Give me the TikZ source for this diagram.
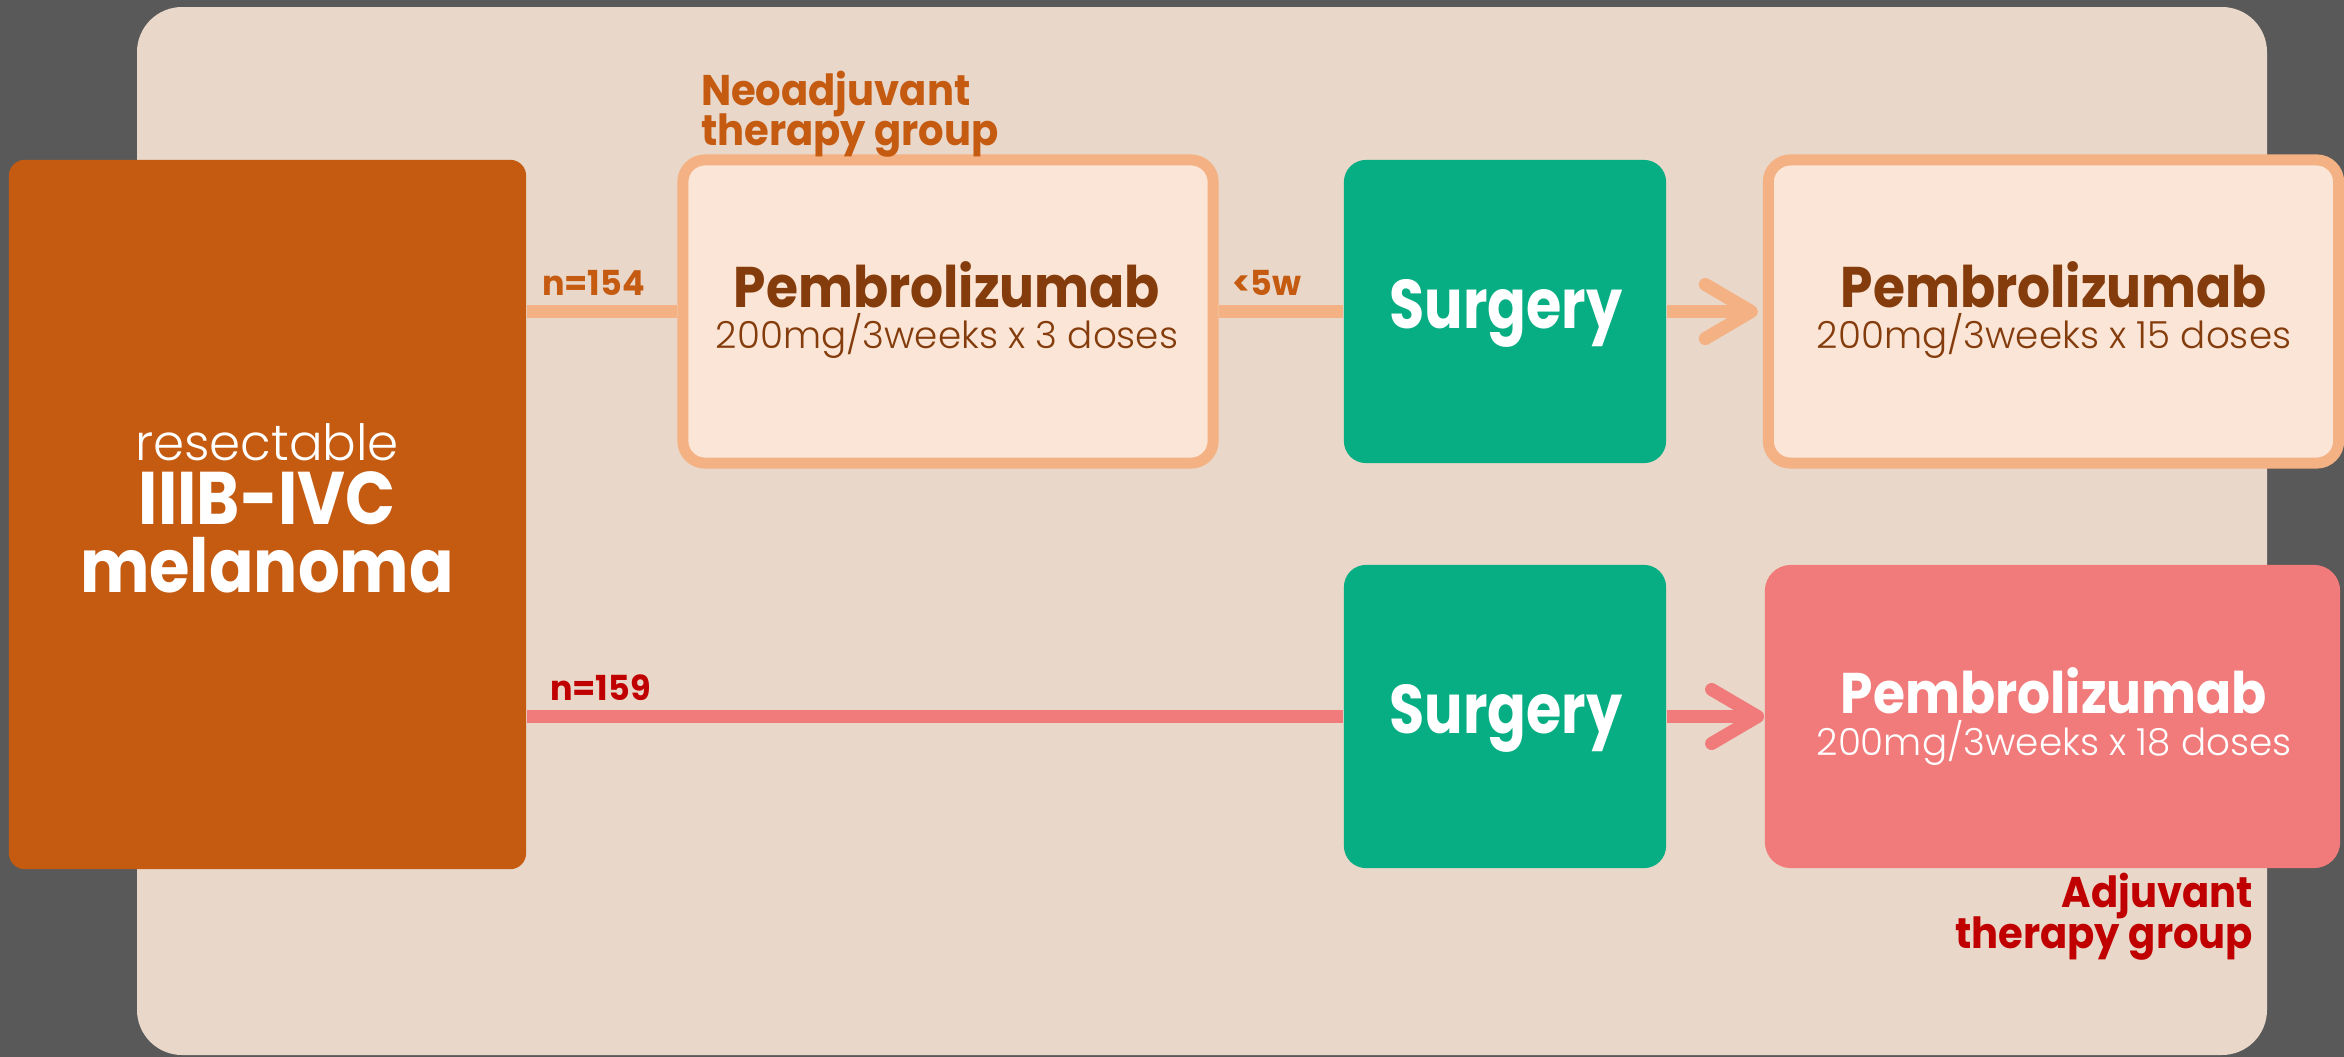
\documentclass[tikz,border=0pt]{standalone}
\usepackage{fontspec}
\usetikzlibrary{arrows.meta}
\setmainfont{Poppins}
\newfontfamily\fbold{Poppins}[FakeStretch=0.88,UprightFont=* Bold]
\newfontfamily\fpemb{Poppins}[FakeStretch=0.905,UprightFont=* Bold]
\newfontfamily\fgrp{Poppins}[FakeStretch=0.935,UprightFont=* Bold]
\newfontfamily\fsurg{Poppins}[FakeStretch=0.83,UprightFont=* Bold]
\newfontfamily\fnlab{Poppins}[FakeStretch=0.97,UprightFont=* Bold]
\newfontfamily\flight{Poppins Light}
\definecolor{bggray}{HTML}{595959}
\definecolor{beige}{HTML}{E9D7C9}
\definecolor{dorange}{HTML}{C55A11}
\definecolor{lorange}{HTML}{F4B183}
\definecolor{lfill}{HTML}{FBE5D6}
\definecolor{brown}{HTML}{843C0C}
\definecolor{sgreen}{HTML}{07AD83}
\definecolor{pinkred}{HTML}{F17A7A}
\definecolor{dred}{HTML}{C00000}
\begin{document}
\begin{tikzpicture}[x=0.01cm,y=-0.01cm,
  leftbox/.style={fill=dorange,rounded corners=1.6mm,minimum width=5.17cm,minimum height=7.09cm,inner sep=0},
  card/.style={draw=lorange,fill=lfill,line width=1.1mm,rounded corners=2.2mm,minimum height=3.03cm,inner sep=0},
  surgbox/.style={fill=sgreen,rounded corners=2.2mm,minimum width=3.22cm,minimum height=3.03cm,inner sep=0},
  redbox/.style={fill=pinkred,rounded corners=2.6mm,minimum width=5.75cm,minimum height=3.03cm,inner sep=0},
  conn/.style={line width=1.3mm},
  barb/.style={-{Straight Barb[length=4.6mm,width=5.4mm,round]}},
  txt/.style={inner sep=0,outer sep=0},
  pemb/.style={txt,anchor=base,font=\fpemb\fontsize{16.3}{18}\selectfont},
  dose/.style={txt,anchor=base,font=\flight\fontsize{10.6}{12}\selectfont},
  grp/.style={txt,font=\fgrp\fontsize{12.2}{14}\selectfont},
  nlab/.style={txt,anchor=base west,font=\fnlab\fontsize{9.8}{11}\selectfont},
  surgtxt/.style={txt,anchor=base,text=white,font=\fsurg\fontsize{19.6}{22}\selectfont}
]
\useasboundingbox (0,0) rectangle (2344,1057);
\fill[bggray] (0,0) rectangle (2344,1057);
\fill[beige,rounded corners=4.5mm] (137,7) rectangle (2267,1055);

% boxes
\node[leftbox] (L) at (267.5,514.5) {};
\node[card,minimum width=5.30cm] (N) at (948,311.5) {};
\node[surgbox] (S1) at (1505,311.5) {};
\node[card,minimum width=5.70cm] (P3) at (2053.5,311.5) {};
\node[surgbox] (S2) at (1505,716.5) {};
\node[redbox] (P4) at (2052.5,716.5) {};

% connectors
\draw[conn,lorange] (L.east |- N.west) -- (N.west);
\draw[conn,lorange] (N.east) -- (S1.west);
\draw[conn,lorange,barb,shorten >=0.5mm] (S1.east) -- (P3.west);
\draw[conn,pinkred] (L.east |- S2.west) -- (S2.west);
\draw[conn,pinkred,barb] (S2.east) -- (P4.west);

% left box text
\node[txt,anchor=base,text=white,font=\flight\fontsize{14.2}{16}\selectfont] (t1) at (267,460) {resectable};
\node[txt,anchor=base,text=white,font=\fbold\fontsize{21.2}{24}\selectfont] (t2) at (267,524) {IIIB-IVC};
\node[txt,anchor=base,text=white,font=\fbold\fontsize{21.2}{24}\selectfont] (t3) at (267,592) {melanoma};

% group labels
\node[grp,anchor=base west,text=dorange] (g1) at (701,105) {Neoadjuvant};
\node[grp,anchor=base west,text=dorange] (g2) at (701,145) {therapy group};
\node[grp,anchor=base east,text=dred] (g3) at (2253,907) {Adjuvant};
\node[grp,anchor=base east,text=dred] (g4) at (2253,948) {therapy group};

% connector labels
\node[nlab,text=dorange] (n1) at (542,295) {n=154};
\node[nlab,text=dorange] (w5) at (1232,295) {<5w};
\node[nlab,text=dred] (n2) at (550,700) {n=159};

% box texts
\node[pemb,text=brown] (p1) at (947,307) {Pembrolizumab};
\node[dose,text=brown] (d1) at (947,348) {200mg/3weeks x 3 doses};
\node[surgtxt] (s1) at (1506,328) {Surgery};
\node[pemb,text=brown] (p3) at (2054,307) {Pembrolizumab};
\node[dose,text=brown] (d3) at (2054,348) {200mg/3weeks x 15 doses};
\node[surgtxt] (s2) at (1506,733) {Surgery};
\node[pemb,text=white] (p4) at (2054,713) {Pembrolizumab};
\node[dose,text=white] (d4) at (2054,755) {200mg/3weeks x 18 doses};
\end{tikzpicture}
\end{document}
